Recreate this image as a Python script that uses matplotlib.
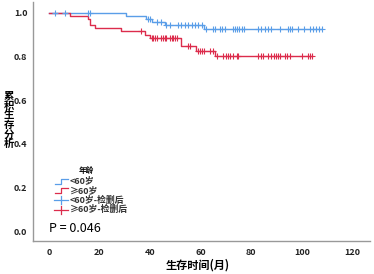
import matplotlib
matplotlib.use("Agg")
import matplotlib.pyplot as plt
from matplotlib.lines import Line2D

plt.rcParams['font.family'] = ['Noto Sans CJK SC', 'DejaVu Sans']

# Step data (time in months, cumulative survival)
blue_t = [0, 30.4, 38.3, 40.6, 46.0, 61.5, 108.0]
blue_s = [1.0, 0.986, 0.972, 0.957, 0.942, 0.925, 0.925]
red_t = [0, 8.3, 15.5, 16.2, 18.2, 28.5, 37.9, 39.9, 52.4, 58.1, 65.6, 104.0]
red_s = [1.0, 0.986, 0.972, 0.945, 0.930, 0.917, 0.900, 0.886, 0.846, 0.827, 0.803, 0.803]

blue_cens = [2.4, 6.3, 15.5, 16.2, 39.2, 39.9, 42.6, 44.5, 46.5, 47.8, 51.1, 52.4, 53.8,
             55.1, 56.4, 57.7, 59.0, 60.4, 62.0, 64.7, 65.6, 67.8, 68.6, 69.6, 72.6, 73.5,
             74.5, 75.3, 76.2, 77.1, 82.7, 83.7, 85.4, 86.7, 88.0, 91.3, 94.6, 95.3, 96.3,
             98.5, 100.8, 103.4, 104.5, 105.5, 106.8, 107.8]
red_cens = [36.6, 40.6, 41.2, 41.9, 42.6, 44.5, 45.2, 45.8, 46.5, 47.8, 48.5, 49.1, 49.8,
            50.5, 55.1, 55.7, 59.0, 59.7, 60.4, 61.3, 63.6, 64.7, 66.5, 68.9, 70.0, 70.9,
            71.8, 72.8, 74.2, 74.8, 82.7, 83.7, 84.7, 86.7, 88.0, 88.9, 89.7, 90.6, 91.3,
            93.3, 94.2, 95.3, 99.9, 102.5, 103.2, 103.9]

xticks = [0, 20, 40, 60, 80, 100, 120]
yticks = [0.0, 0.2, 0.4, 0.6, 0.8, 1.0]
legend_labels = ["<60岁", "≥60岁", "<60岁-检删后", "≥60岁-检删后"]
legend_title = "年龄"
p_text = "P = 0.046"
xlabel = "生存时间(月)"
ylabel = "累积生存分析"

blue = '#5a9ee8'
red = '#dc2c4c'


def surv_at(ts, ss, t):
    val = ss[0]
    for ti, si in zip(ts, ss):
        if t >= ti:
            val = si
    return val


fig = plt.figure(figsize=(3.74, 2.74), dpi=100)
ax = fig.add_axes([0.088, 0.12, 0.901, 0.873])

ax.step(blue_t, blue_s, where='post', color=blue, lw=1.0)
ax.step(red_t, red_s, where='post', color=red, lw=1.0)
ax.plot(blue_cens, [surv_at(blue_t, blue_s, t) for t in blue_cens], ls='none',
        marker='+', ms=4.5, mew=0.8, color=blue)
ax.plot(red_cens, [surv_at(red_t, red_s, t) for t in red_cens], ls='none',
        marker='+', ms=4.5, mew=0.8, color=red)

ax.set_xlim(-6.3, 126.9)
ax.set_ylim(-0.046, 1.05)
ax.set_xticks(xticks)
ax.set_yticks(yticks)
ax.set_xticklabels([str(v) for v in xticks], fontsize=6.5, fontweight='bold', color='#222222')
ax.set_yticklabels([f"{v:.1f}" for v in yticks], fontsize=6.5, fontweight='bold', color='#222222')
ax.tick_params(axis='x', length=0, pad=5)
ax.tick_params(axis='y', length=0, pad=4)
for s in ['top', 'right']:
    ax.spines[s].set_visible(False)
for s in ['left', 'bottom']:
    ax.spines[s].set_color('#999999')
    ax.spines[s].set_linewidth(1.0)

# labels
fig.text(198 / 374, 1 - 265 / 274, xlabel, ha='center', va='center', fontsize=8, fontweight='bold')
fig.text(8.5 / 374, 1 - 120 / 274, "\n".join(ylabel), ha='center', va='center', fontsize=7.5,
         fontweight='bold', linespacing=0.95)

# legend (manual)
def fx(px):
    return px / 374


def fy(py):
    return 1 - py / 274


fig.text(fx(86), fy(170), legend_title, ha='center', va='center', fontsize=5.5, fontweight='bold')
ys = [181, 190.5, 200, 209.5]
for i, (lab, col) in enumerate(zip(legend_labels, [blue, red, blue, red])):
    y = ys[i]
    if i < 2:
        xs = [fx(55), fx(61), fx(61), fx(68)]
        yy = [fy(y + 2.5), fy(y + 2.5), fy(y - 2.5), fy(y - 2.5)]
        fig.add_artist(Line2D(xs, yy, color=col, lw=0.9, transform=fig.transFigure))
    else:
        fig.add_artist(Line2D([fx(54), fx(68)], [fy(y), fy(y)], color=col, lw=0.9,
                              transform=fig.transFigure))
        fig.add_artist(Line2D([fx(61), fx(61)], [fy(y - 4), fy(y + 4)], color=col, lw=0.9,
                              transform=fig.transFigure))
    fig.text(fx(70), fy(y), lab, ha='left', va='center', fontsize=6.4, fontweight='bold',
             color='#333333')

fig.text(fx(49), fy(228), p_text, ha='left', va='center', fontsize=9)

fig.savefig("out.png", dpi=100)
